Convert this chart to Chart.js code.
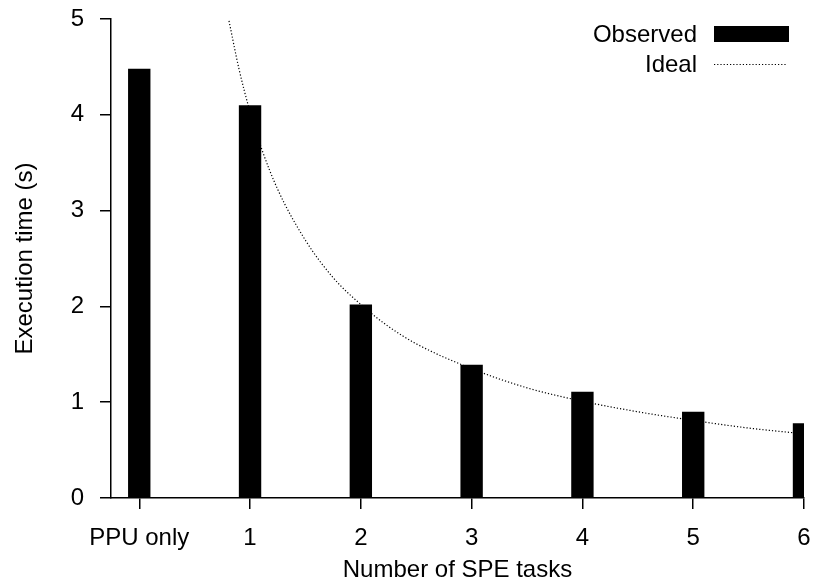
<!DOCTYPE html>
<html><head><meta charset="utf-8">
<script src="https://cdn.jsdelivr.net/npm/chart.js@4.4.0/dist/chart.umd.min.js"></script>
<style>html,body{margin:0;padding:0;background:#fff}#wrap{width:815px;height:585px;position:relative}</style>
</head><body><div id="wrap"><canvas id="c"></canvas></div>
<script>
// ---- data ----
const categories = ['PPU only', '1', '2', '3', '4', '5', '6'];
const categoryPositions = [0, 1, 2, 3, 4, 5, 6];
const observed = [4.48, 4.10, 2.02, 1.39, 1.11, 0.90, 0.78];
const idealX = [0.81, 0.9, 1, 1.1, 1.25, 1.5, 1.75, 2, 2.25, 2.5, 3, 3.5, 4, 4.5, 5, 5.5, 6];
const idealY = [4.98, 4.48, 4.03, 3.66, 3.22, 2.69, 2.30, 2.02, 1.79, 1.61, 1.35, 1.15, 1.01, 0.90, 0.81, 0.73, 0.67];
const yTicks = [0, 1, 2, 3, 4, 5];
const seriesNames = ['Observed', 'Ideal'];
const xTitle = 'Number of SPE tasks';
const yTitle = 'Execution time (s)';

const FONT = 'Liberation Sans, Arial, Helvetica, sans-serif';
const fontSpec = {family: FONT, size: 24};

function zeroPad(s) { s.paddingTop = 0; s.paddingBottom = 0; s.paddingLeft = 0; s.paddingRight = 0; }

const legendPlugin = {
  id: 'customLegend',
  afterDatasetsDraw(chart) {
    const ctx = chart.ctx;
    const ds = chart.data.datasets;
    const textRight = 697, symLeft = 714, symRight = 789;
    const rows = [34, 64];
    ctx.save();
    ctx.font = '24px ' + FONT;
    ctx.textAlign = 'right';
    ctx.textBaseline = 'middle';
    ds.forEach((d, i) => {
      const y = rows[i];
      ctx.fillStyle = '#000';
      ctx.fillText(d.label, textRight, y + 1);
      if (d.type === 'bar') {
        ctx.fillRect(symLeft, y - 8, symRight - symLeft, 16);
      } else {
        ctx.strokeStyle = '#000';
        ctx.lineWidth = 1.2;
        ctx.setLineDash([1.2, 2]);
        ctx.beginPath();
        ctx.moveTo(symLeft, y + 0.5);
        ctx.lineTo(symRight - 3, y + 0.5);
        ctx.stroke();
        ctx.setLineDash([]);
      }
    });
    ctx.restore();
  }
};

new Chart(document.getElementById('c'), {
  type: 'bar',
  data: {
    datasets: [
      {
        type: 'bar',
        label: seriesNames[0],
        data: categoryPositions.map((x, i) => ({x: x, y: observed[i]})),
        backgroundColor: '#000',
        borderWidth: 0,
        barPercentage: 0.202,
        categoryPercentage: 1,
        clip: 0,
        order: 2
      },
      {
        type: 'line',
        label: seriesNames[1],
        data: idealX.map((x, i) => ({x: x, y: idealY[i]})),
        borderColor: '#000',
        borderWidth: 1.2,
        borderDash: [1.2, 2],
        pointRadius: 0,
        cubicInterpolationMode: 'monotone',
        fill: false,
        clip: 0,
        order: 1
      }
    ]
  },
  options: {
    responsive: true,
    maintainAspectRatio: false,
    animation: false,
    layout: {padding: {top: 19, right: 11, left: 0, bottom: 0}},
    plugins: {legend: {display: false}, tooltip: {enabled: false}},
    scales: {
      x: {
        type: 'linear',
        offset: false,
        min: -0.255,
        max: 6,
        afterBuildTicks: (s) => { s.ticks = categoryPositions.map(v => ({value: v})); },
        afterFit: (s) => { s.height = 87; zeroPad(s); },
        ticks: {
          color: '#000',
          font: fontSpec,
          padding: 15,
          maxRotation: 0,
          autoSkip: false,
          callback: (v) => { const i = categoryPositions.indexOf(v); return i >= 0 ? categories[i] : ''; }
        },
        grid: {offset: false, drawOnChartArea: false, drawTicks: true, tickLength: 11, color: '#000', lineWidth: 1.5},
        border: {display: true, color: '#000', width: 1.5},
        title: {display: true, text: xTitle, color: '#000', font: fontSpec, padding: {top: 0, bottom: 0}}
      },
      y: {
        min: 0,
        max: 5,
        afterBuildTicks: (s) => { s.ticks = yTicks.map(v => ({value: v})); },
        afterFit: (s) => { s.width = 111; zeroPad(s); },
        ticks: {color: '#000', font: fontSpec, padding: 16},
        grid: {drawOnChartArea: false, drawTicks: true, tickLength: 11, color: '#000', lineWidth: 1.5},
        border: {display: true, color: '#000', width: 1.5},
        title: {display: true, text: yTitle, color: '#000', font: fontSpec, padding: {top: 11, bottom: 0}}
      }
    }
  },
  plugins: [legendPlugin]
});
</script>
</body></html>
